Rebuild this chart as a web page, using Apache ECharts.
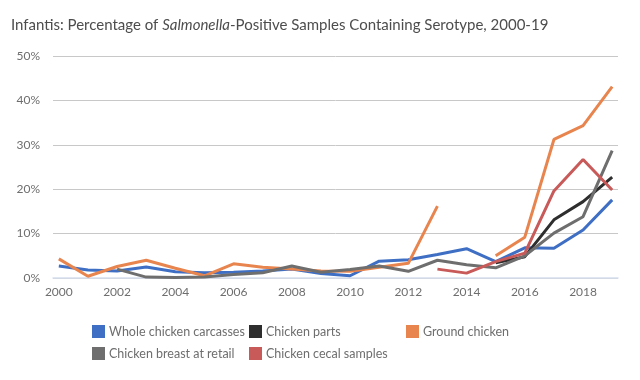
<!DOCTYPE html>
<html>
<head>
<meta charset="utf-8">
<script src="https://cdn.jsdelivr.net/npm/echarts@6/dist/echarts.min.js"></script>
<style>html,body{margin:0;padding:0;background:#fff}#c{width:640px;height:380px}</style>
</head>
<body>
<div id="c"></div>
<script>
var years = [2000,2001,2002,2003,2004,2005,2006,2007,2008,2009,2010,2011,2012,2013,2014,2015,2016,2017,2018,2019];
var yTicks = [0,10,20,30,40,50];
var xTickLabels = [2000,2002,2004,2006,2008,2010,2012,2014,2016,2018];
var seriesNames = ['Whole chicken carcasses','Chicken parts','Ground chicken','Chicken breast at retail','Chicken cecal samples'];
var wholeCarcasses = [2.7,1.8,1.6,2.5,1.4,1.2,1.3,1.6,2.0,1.0,0.5,3.8,4.1,5.3,6.6,3.7,6.8,6.7,10.8,17.6];
var chickenParts = [null,null,null,null,null,null,null,null,null,null,null,null,null,null,null,3.4,4.8,13.1,17.2,22.7];
var groundChicken = [4.3,0.4,2.6,4.0,2.2,0.5,3.2,2.4,2.0,1.6,1.5,2.4,3.3,16.2,null,5.0,9.2,31.2,34.3,43.1];
var breastRetail = [null,null,2.0,0.2,0.1,0.2,0.8,1.2,2.7,1.3,1.9,2.7,1.5,4.0,3.0,2.3,5.0,10.1,13.8,28.7];
var cecalSamples = [null,null,null,null,null,null,null,null,null,null,null,null,null,2.0,1.1,3.7,5.6,19.6,26.7,19.8];

var colors = ['#3e6fc4','#2e2e2e','#e8854f','#6e6e6e','#c85a5a'];
var allData = [wholeCarcasses, chickenParts, groundChicken, breastRetail, cecalSamples];

function pairs(arr){ return years.map(function(y,i){ return [y, arr[i]]; }); }

var legendPos = [[92,325],[249,325],[406,325],[92,347],[249,347]];
var legends = seriesNames.map(function(n,i){
  return {
    data:[n], left: legendPos[i][0], top: legendPos[i][1], padding:0,
    icon:'rect', itemWidth:13, itemHeight:13, itemGap:5,
    textStyle:{color:'#6e6e6e', fontFamily:'Lato', fontSize:12.5, padding:[0,0,0,-1]},
    selectedMode:false
  };
});

var chart = echarts.init(document.getElementById('c'), null, {renderer:'canvas'});
chart.setOption({
  animation:false,
  color: colors,
  title:{
    left:11, top:18, padding:0,
    text:'{a|Infantis: Percentage of }{b|Salmonella}{a|-Positive Samples Containing Serotype, 2000-19}',
    textStyle:{
      fontWeight:'normal',
      rich:{
        a:{fontFamily:'Lato', fontSize:15, fontWeight:'normal', color:'#4d4d4d'},
        b:{fontFamily:'Lato', fontSize:15, fontWeight:'normal', color:'#4d4d4d', fontStyle:'italic'}
      }
    }
  },
  legend: legends,
  grid:{left:53, right:22, top:56, bottom:102, containLabel:false},
  xAxis:{
    type:'value', min:1999.8, max:2019.2,
    axisLine:{show:true, lineStyle:{color:'#d8def0', width:1.5}},
    axisTick:{show:false},
    splitLine:{show:false},
    axisLabel:{
      customValues: xTickLabels,
      color:'#6e6e6e', fontFamily:'Lato', fontSize:12, margin:8,
      formatter:function(v){ return String(v); }
    }
  },
  yAxis:{
    type:'value', min:yTicks[0], max:yTicks[yTicks.length-1], interval:10,
    axisLine:{show:false}, axisTick:{show:false},
    splitLine:{lineStyle:{color:'#c8c8c8', width:1}},
    axisLabel:{color:'#6e6e6e', fontFamily:'Lato', fontSize:12, margin:13, formatter:'{value}%'}
  },
  series: seriesNames.map(function(n,i){
    return {
      name:n, type:'line', data:pairs(allData[i]), showSymbol:false, symbol:'none',
      connectNulls:false,
      lineStyle:{width:3, color:colors[i]}, itemStyle:{color:colors[i]}
    };
  })
});
</script>
</body>
</html>
